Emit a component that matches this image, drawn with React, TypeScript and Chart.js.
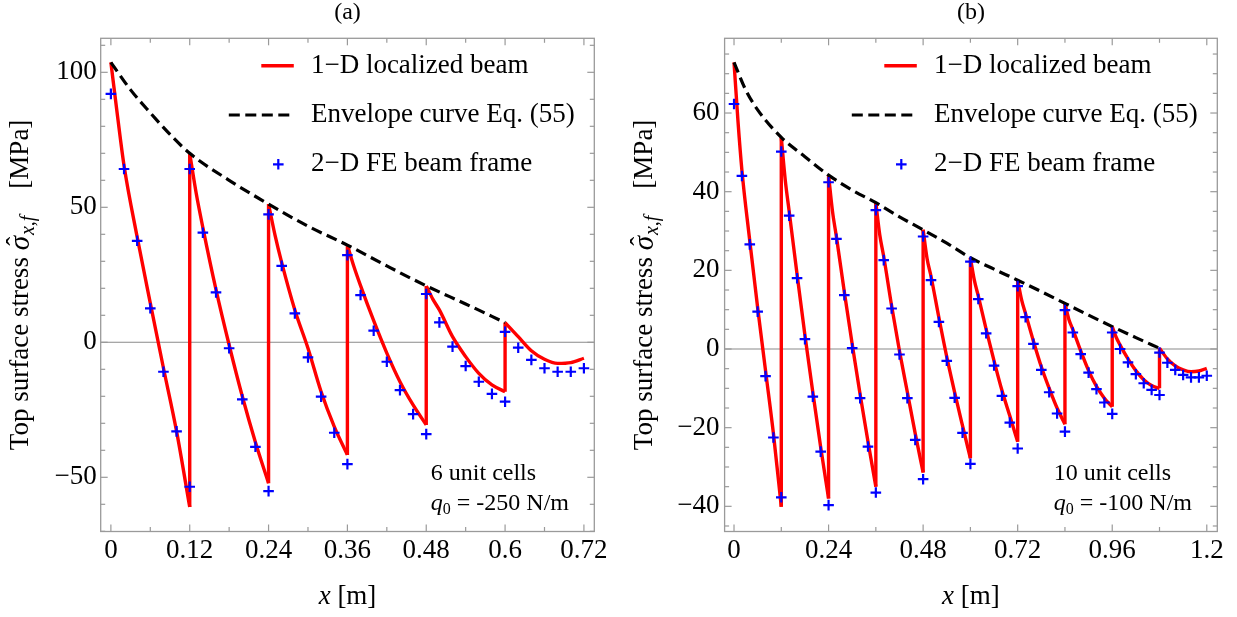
import React, { useEffect, useRef } from "react";
import { Chart, registerables } from "chart.js";

Chart.register(...registerables);

const FONT = '"Liberation Serif", "Times New Roman", serif';

// ---------------- Panel (a): 6 unit cells, q0 = -250 N/m ----------------
const A_RED_X = [
  0, 0.01, 0.02, 0.04, 0.06, 0.08, 0.1, 0.12,
  0.12, 0.13, 0.14, 0.16, 0.18, 0.2, 0.22, 0.24,
  0.24, 0.25, 0.26, 0.28, 0.3, 0.32, 0.34, 0.36,
  0.36, 0.37, 0.38, 0.4, 0.42, 0.44, 0.46, 0.48,
  0.48, 0.49, 0.5, 0.52, 0.54, 0.56, 0.58, 0.6,
  0.6, 0.62, 0.64, 0.66, 0.68, 0.7, 0.72,
];
const A_RED_Y = [
  103.7, 84, 65.5, 39, 14.5, -9.5, -33, -61,
  70, 55, 42.5, 19.5, -1, -20, -37, -52.2,
  51.2, 39.5, 29.5, 12, -2.2, -18.3, -31.2, -41.7,
  36, 28, 21, 8, -4, -14.6, -23.2, -30.6,
  20.9, 16, 12, 2.1, -5.3, -11.5, -15.8, -18.3,
  7.3, 2.1, -3.1, -6.3, -7.8, -7.5, -5.9,
];
const A_ENV_X = [0, 0.03, 0.06, 0.09, 0.12, 0.18, 0.24, 0.3, 0.36, 0.42, 0.48, 0.54, 0.6];
const A_ENV_Y = [103.7, 93.5, 85, 77, 70, 60, 51.2, 43, 36, 28.3, 20.9, 14.2, 7.3];
const A_FE_X = [
  0, 0.02, 0.04, 0.06, 0.08, 0.1, 0.12,
  0.12, 0.14, 0.16, 0.18, 0.2, 0.22, 0.24,
  0.24, 0.26, 0.28, 0.3, 0.32, 0.34, 0.36,
  0.36, 0.38, 0.4, 0.42, 0.44, 0.46, 0.48,
  0.48, 0.5, 0.52, 0.54, 0.56, 0.58, 0.6,
  0.6, 0.62, 0.64, 0.66, 0.68, 0.7, 0.72,
];
const A_FE_Y = [
  92, 64.2, 37.6, 12.6, -10.9, -33, -53.5,
  64.2, 40.6, 18.5, -2.2, -21.1, -38.7, -55.1,
  47.4, 28.3, 10.7, -5.6, -20.1, -33.5, -45.1,
  32.3, 17.5, 4.3, -7.2, -17.7, -26.6, -34,
  17.9, 7.4, -1.6, -8.8, -14.6, -19.1, -22,
  3.9, -2, -6.5, -9.6, -10.9, -10.9, -9.6,
];
const A_X_LABELS = [0, 0.12, 0.24, 0.36, 0.48, 0.6, 0.72];
const A_X_MINOR = [0, 0.06, 0.12, 0.18, 0.24, 0.3, 0.36, 0.42, 0.48, 0.54, 0.6, 0.66, 0.72];
const A_Y_LABELS = [-50, 0, 50, 100];
const A_Y_MINOR = [-70, -60, -50, -40, -30, -20, -10, 0, 10, 20, 30, 40, 50, 60, 70, 80, 90, 100, 110];

// ---------------- Panel (b): 10 unit cells, q0 = -100 N/m ----------------
const B_RED_X = [
  0, 0.01, 0.02, 0.04, 0.06, 0.08, 0.1, 0.12,
  0.12, 0.13, 0.14, 0.16, 0.18, 0.2, 0.22, 0.24,
  0.24, 0.25, 0.26, 0.28, 0.3, 0.32, 0.34, 0.36,
  0.36, 0.37, 0.38, 0.4, 0.42, 0.44, 0.46, 0.48,
  0.48, 0.49, 0.5, 0.52, 0.54, 0.56, 0.58, 0.6,
  0.6, 0.61, 0.62, 0.64, 0.66, 0.68, 0.7, 0.72,
  0.72, 0.73, 0.74, 0.76, 0.78, 0.8, 0.82, 0.84,
  0.84, 0.85, 0.86, 0.88, 0.9, 0.92, 0.94, 0.96,
  0.96, 0.97, 0.98, 1.0, 1.02, 1.04, 1.06, 1.08,
  1.08, 1.1, 1.12, 1.14, 1.16, 1.18, 1.2,
];
const B_RED_Y = [
  72.9, 58, 45.5, 27.5, 10.5, -5.5, -21.5, -40.1,
  53.8, 43, 35, 19, 3.5, -11, -25, -38,
  44.2, 35, 28.5, 14.5, 1.2, -11.5, -23.5, -35,
  37.2, 29, 23.5, 11, -0.5, -11, -21.5, -31.4,
  30.3, 23, 18.5, 8, -2, -11, -19.5, -27.8,
  23.2, 17.5, 13.5, 5, -3, -10.5, -17, -23.6,
  17.5, 12.5, 9, 2, -4.5, -10, -15, -19.1,
  11.6, 7.5, 5, -0.5, -5.5, -9.5, -12.5, -14.7,
  5.7, 3, 1, -2.5, -5.5, -7.8, -9.3, -10,
  0.2, -2.5, -4.3, -5.3, -5.8, -5.6, -4.9,
];
const B_ENV_X = [0, 0.03, 0.06, 0.12, 0.18, 0.24, 0.3, 0.36, 0.42, 0.48, 0.54, 0.6, 0.66, 0.72, 0.78, 0.84, 0.9, 0.96, 1.02, 1.08];
const B_ENV_Y = [72.9, 65.8, 60.8, 53.8, 48.9, 44.2, 40.4, 37.2, 33.6, 30.3, 26.9, 23.2, 20.3, 17.5, 14.6, 11.6, 8.6, 5.7, 2.9, 0.2];
const B_FE_X = [
  0, 0.02, 0.04, 0.06, 0.08, 0.1, 0.12,
  0.12, 0.14, 0.16, 0.18, 0.2, 0.22, 0.24,
  0.24, 0.26, 0.28, 0.3, 0.32, 0.34, 0.36,
  0.36, 0.38, 0.4, 0.42, 0.44, 0.46, 0.48,
  0.48, 0.5, 0.52, 0.54, 0.56, 0.58, 0.6,
  0.6, 0.62, 0.64, 0.66, 0.68, 0.7, 0.72,
  0.72, 0.74, 0.76, 0.78, 0.8, 0.82, 0.84,
  0.84, 0.86, 0.88, 0.9, 0.92, 0.94, 0.96,
  0.96, 0.98, 1.0, 1.02, 1.04, 1.06, 1.08,
  1.08, 1.1, 1.12, 1.14, 1.16, 1.18, 1.2,
];
const B_FE_Y = [
  62.3, 44, 26.6, 9.5, -6.9, -22.5, -37.7,
  50.2, 33.9, 18, 2.5, -12.1, -26.1, -39.7,
  42.4, 28, 13.7, 0.2, -12.5, -24.8, -36.5,
  35.3, 22.6, 10.3, -1.4, -12.5, -23.1, -33.1,
  28.6, 17.5, 6.9, -3, -12.4, -21.3, -29.2,
  22.2, 12.7, 4, -4.2, -11.9, -18.7, -25.3,
  16, 8.1, 1.3, -5.3, -11, -16.4, -21,
  9.9, 4.2, -1.3, -6, -10.2, -13.6, -16.5,
  4.2, 0, -3.4, -6.4, -8.7, -10.4, -11.7,
  -0.9, -3.5, -5.3, -6.6, -7.2, -7.2, -6.8,
];
const B_X_LABELS = [0, 0.24, 0.48, 0.72, 0.96, 1.2];
const B_X_MINOR = [0, 0.12, 0.24, 0.36, 0.48, 0.6, 0.72, 0.84, 0.96, 1.08, 1.2];
const B_Y_LABELS = [-40, -20, 0, 20, 40, 60];
const B_Y_MINOR = [-45, -40, -35, -30, -25, -20, -15, -10, -5, 0, 5, 10, 15, 20, 25, 30, 35, 40, 45, 50, 55, 60, 65, 70, 75];

const LEGEND_LABELS = ["1\u2212D localized beam", "Envelope curve Eq. (55)", "2\u2212D FE beam frame"];

type Run = { t: string; italic?: boolean; size: number; dy?: number; gap?: number };

function fontOf(r: Run) {
  return `${r.italic ? "italic " : ""}${r.size}px ${FONT}`;
}

function runsWidth(ctx: CanvasRenderingContext2D, runs: Run[]) {
  let w = 0;
  for (const r of runs) {
    ctx.font = fontOf(r);
    w += ctx.measureText(r.t).width + (r.gap || 0);
  }
  return w;
}

function drawRuns(ctx: CanvasRenderingContext2D, runs: Run[], x: number, y: number, align: "left" | "center") {
  let cx = align === "center" ? x - runsWidth(ctx, runs) / 2 : x;
  ctx.textAlign = "left";
  ctx.textBaseline = "middle";
  for (const r of runs) {
    ctx.font = fontOf(r);
    ctx.fillText(r.t, cx, y + (r.dy || 0));
    cx += ctx.measureText(r.t).width + (r.gap || 0);
  }
}

function pts(xs: number[], ys: number[]) {
  return xs.map((x, i) => ({ x, y: ys[i] }));
}

function splitCells(xs: number[], ys: number[]) {
  const cells: { x: number; y: number }[][] = [];
  let cur: { x: number; y: number }[] = [];
  xs.forEach((x, i) => {
    if (i > 0 && x === xs[i - 1]) {
      cells.push(cur);
      cur = [];
    }
    cur.push({ x, y: ys[i] });
  });
  cells.push(cur);
  return cells;
}

type PanelCfg = {
  title: string;
  redX: number[]; redY: number[];
  envX: number[]; envY: number[];
  feX: number[]; feY: number[];
  xLabels: number[]; xMinor: number[];
  yLabels: number[]; yMinor: number[];
  xMin: number; xMax: number; yMin: number; yMax: number;
  padding: { left: number; right: number; top: number; bottom: number };
  yWidth: number; xHeight: number; yTickPad: number;
  cellsText: string; qText: string;
};

function makeDecor(cfg: PanelCfg) {
  return {
    id: "decor",
    beforeDatasetsDraw(chart: any) {
      const { ctx, chartArea: ca, scales } = chart;
      const xs = scales.x;
      const ys = scales.y;
      const seg = (x1: number, y1: number, x2: number, y2: number) => {
        ctx.beginPath();
        ctx.moveTo(x1, y1);
        ctx.lineTo(x2, y2);
        ctx.stroke();
      };
      ctx.save();
      const y0 = ys.getPixelForValue(0);
      ctx.strokeStyle = "#8a8a8a";
      ctx.lineWidth = 1.1;
      seg(ca.left, y0, ca.right, y0);
      ctx.strokeStyle = "#9a9a9a";
      ctx.lineWidth = 1.2;
      cfg.xMinor.forEach((v) => {
        const p = xs.getPixelForValue(v);
        const len = cfg.xLabels.includes(v) ? 7 : 4.5;
        seg(p, ca.bottom, p, ca.bottom - len);
        seg(p, ca.top, p, ca.top + len);
      });
      cfg.yMinor.forEach((v) => {
        const p = ys.getPixelForValue(v);
        const len = cfg.yLabels.includes(v) ? 7 : 4.5;
        seg(ca.left, p, ca.left + len, p);
        seg(ca.right, p, ca.right - len, p);
      });
      ctx.lineWidth = 1.3;
      ctx.strokeStyle = "#9a9a9a";
      ctx.strokeRect(ca.left, ca.top, ca.right - ca.left, ca.bottom - ca.top);
      ctx.restore();
    },
    afterDraw(chart: any) {
      const { ctx, chartArea: ca } = chart;
      ctx.save();
      ctx.fillStyle = "#000";
      const midX = (ca.left + ca.right) / 2;
      const midY = (ca.top + ca.bottom) / 2;

      // panel title
      drawRuns(ctx, [{ t: cfg.title, size: 24 }], midX, 13, "center");

      // x axis title
      drawRuns(ctx, [{ t: "x", italic: true, size: 27 }, { t: " [m]", size: 27 }], midX, 597, "center");

      // y axis title (rotated)
      ctx.save();
      ctx.translate(ca.left - 79.5, midY);
      ctx.rotate(-Math.PI / 2);
      const fs = 27;
      const runs: Run[] = [
        { t: "Top surface stress ", size: fs },
        { t: "\u03C3", italic: true, size: 29, gap: 1 },
        { t: "x,f", italic: true, size: 20, dy: 8 },
        { t: "    [MPa]", size: fs },
      ];
      const total = runsWidth(ctx, runs);
      let cx = -total / 2;
      ctx.textAlign = "left";
      ctx.textBaseline = "middle";
      for (const r of runs) {
        ctx.font = fontOf(r);
        ctx.fillText(r.t, cx, r.dy || 0);
        const w = ctx.measureText(r.t).width;
        if (r.t === "\u03C3") {
          ctx.font = `${fs}px ${FONT}`;
          const hw = ctx.measureText("\u02C6").width;
          ctx.fillText("\u02C6", cx + w / 2 - hw / 2 + 2, -3);
        }
        cx += w + (r.gap || 0);
      }
      ctx.restore();

      // legend
      const textX = ca.right - 283.4;
      const rows = [ca.top + 27.4, ca.top + 76.7, ca.top + 126];
      ctx.lineCap = "butt";
      ctx.strokeStyle = "#ff0000";
      ctx.lineWidth = 3.4;
      ctx.beginPath();
      ctx.moveTo(ca.right - 333, rows[0]);
      ctx.lineTo(ca.right - 300.5, rows[0]);
      ctx.stroke();
      ctx.strokeStyle = "#000";
      ctx.lineWidth = 3.2;
      ctx.setLineDash([11, 5.5]);
      ctx.beginPath();
      ctx.moveTo(ca.right - 365.5, rows[1]);
      ctx.lineTo(ca.right - 300.5, rows[1]);
      ctx.stroke();
      ctx.setLineDash([]);
      ctx.strokeStyle = "#0000ff";
      ctx.lineWidth = 2.2;
      const px = ca.right - 316;
      const pr = 5.3;
      ctx.beginPath();
      ctx.moveTo(px - pr, rows[2]);
      ctx.lineTo(px + pr, rows[2]);
      ctx.moveTo(px, rows[2] - pr);
      ctx.lineTo(px, rows[2] + pr);
      ctx.stroke();
      ctx.fillStyle = "#000";
      LEGEND_LABELS.forEach((lab, i) => drawRuns(ctx, [{ t: lab, size: 27 }], textX, rows[i], "left"));

      // annotation
      const ax = ca.right - 163.5;
      drawRuns(ctx, [{ t: cfg.cellsText, size: 24 }], ax, 473.5, "left");
      drawRuns(
        ctx,
        [
          { t: "q", italic: true, size: 24 },
          { t: "0", size: 16, dy: 6 },
          { t: " = " + cfg.qText, size: 24 },
        ],
        ax,
        503.5,
        "left"
      );
      ctx.restore();
    },
  };
}

function fmtY(v: number) {
  return v < 0 ? "\u2212" + Math.abs(v) : String(v);
}

function buildChart(canvas: HTMLCanvasElement, cfg: PanelCfg) {
  const redCells = splitCells(cfg.redX, cfg.redY);
  const jumps = redCells.slice(1).map((cell, i) => {
    const prev = redCells[i];
    return [prev[prev.length - 1], cell[0]];
  });
  const redStyle = {
    label: LEGEND_LABELS[0],
    showLine: true,
    borderColor: "#ff0000",
    borderWidth: 3.4,
    pointRadius: 0,
    fill: false,
  };
  const datasets: any[] = [
    {
      label: LEGEND_LABELS[2],
      data: pts(cfg.feX, cfg.feY),
      showLine: false,
      pointStyle: "cross",
      pointRadius: 5.3,
      pointHoverRadius: 5.3,
      pointBorderWidth: 2.2,
      pointBorderColor: "#0000ff",
      borderColor: "#0000ff",
      backgroundColor: "#0000ff",
    },
    {
      label: LEGEND_LABELS[1],
      data: pts(cfg.envX, cfg.envY),
      showLine: true,
      borderColor: "#000000",
      borderWidth: 3.2,
      borderDash: [11, 5.5],
      pointRadius: 0,
      cubicInterpolationMode: "monotone",
      fill: false,
    },
    ...redCells.map((cell) => ({ ...redStyle, data: cell, cubicInterpolationMode: "monotone" })),
    ...jumps.map((j) => ({ ...redStyle, data: j, tension: 0 })),
  ];
  return new Chart(canvas, {
    type: "scatter",
    data: { datasets },
    options: {
      animation: false,
      responsive: false,
      devicePixelRatio: 1,
      events: [],
      layout: { padding: cfg.padding },
      plugins: {
        legend: { display: false },
        tooltip: { enabled: false },
        title: { display: false },
      },
      scales: {
        x: {
          type: "linear",
          min: cfg.xMin,
          max: cfg.xMax,
          grid: { display: false, drawTicks: false, tickLength: 0 },
          border: { display: false },
          ticks: {
            font: { family: FONT, size: 27 },
            color: "#000",
            padding: 3,
            autoSkip: false,
            maxRotation: 0,
            callback: (v: any) => String(v),
          },
          afterBuildTicks: (s: any) => {
            s.ticks = cfg.xLabels.map((v) => ({ value: v }));
          },
          afterFit: (s: any) => {
            s.height = cfg.xHeight;
            s.paddingLeft = 0;
            s.paddingRight = 0;
          },
        },
        y: {
          type: "linear",
          min: cfg.yMin,
          max: cfg.yMax,
          grid: { display: false, drawTicks: false, tickLength: 0 },
          border: { display: false },
          ticks: {
            font: { family: FONT, size: 27 },
            color: "#000",
            padding: cfg.yTickPad,
            autoSkip: false,
            callback: (v: any) => fmtY(Number(v)),
          },
          afterBuildTicks: (s: any) => {
            s.ticks = cfg.yLabels.map((v) => ({ value: v }));
          },
          afterFit: (s: any) => {
            s.width = cfg.yWidth;
            s.paddingTop = 0;
            s.paddingBottom = 0;
          },
        },
      },
    } as any,
    plugins: [makeDecor(cfg) as any],
  });
}

const W = 1237;
const H = 617;

const PANEL_A: PanelCfg = {
  title: "(a)",
  redX: A_RED_X, redY: A_RED_Y,
  envX: A_ENV_X, envY: A_ENV_Y,
  feX: A_FE_X, feY: A_FE_Y,
  xLabels: A_X_LABELS, xMinor: A_X_MINOR,
  yLabels: A_Y_LABELS, yMinor: A_Y_MINOR,
  xMin: -0.0155, xMax: 0.7358, yMin: -70.07, yMax: 112.6,
  padding: { left: 0, right: W - 594.3, top: 38.3, bottom: 0 },
  yWidth: 100.7, xHeight: H - 531.5, yTickPad: 4,
  cellsText: "6 unit cells", qText: "-250 N/m",
};

const PANEL_B: PanelCfg = {
  title: "(b)",
  redX: B_RED_X, redY: B_RED_Y,
  envX: B_ENV_X, envY: B_ENV_Y,
  feX: B_FE_X, feY: B_FE_Y,
  xLabels: B_X_LABELS, xMinor: B_X_MINOR,
  yLabels: B_Y_LABELS, yMinor: B_Y_MINOR,
  xMin: -0.0239, xMax: 1.2267, yMin: -46.4, yMax: 79.0,
  padding: { left: 624.6, right: W - 1217.3, top: 38.3, bottom: 0 },
  yWidth: 100, xHeight: H - 531.5, yTickPad: 5,
  cellsText: "10 unit cells", qText: "-100 N/m",
};

export default function App() {
  const refA = useRef<HTMLCanvasElement>(null);
  const refB = useRef<HTMLCanvasElement>(null);
  useEffect(() => {
    const a = buildChart(refA.current!, PANEL_A);
    const b = buildChart(refB.current!, PANEL_B);
    return () => {
      a.destroy();
      b.destroy();
    };
  }, []);
  const cs: React.CSSProperties = { position: "absolute", left: 0, top: 0, width: W, height: H };
  return (
    <div style={{ position: "absolute", left: 0, top: 0, width: W, height: H, background: "#fff" }}>
      <canvas ref={refA} width={W} height={H} style={cs} />
      <canvas ref={refB} width={W} height={H} style={cs} />
    </div>
  );
}
